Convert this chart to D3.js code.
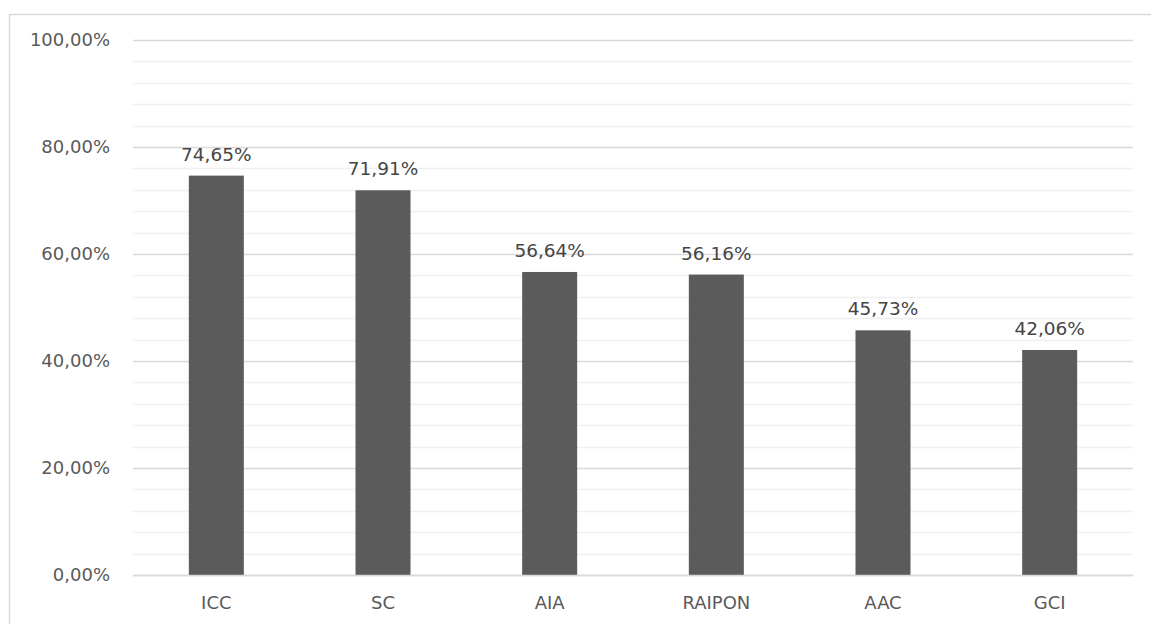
<!DOCTYPE html>
<html>
<head>
<meta charset="utf-8">
<script src="https://cdn.jsdelivr.net/npm/d3@7"></script>
<style>
  body { margin: 0; background: #fff; }
  text { font-family: "DejaVu Sans", "Open Sans", sans-serif; }
</style>
</head>
<body>
<div id="chart"></div>
<script>
// data
const categories = ["ICC", "SC", "AIA", "RAIPON", "AAC", "GCI"];
const values = [74.65, 71.91, 56.64, 56.16, 45.73, 42.06];
const majorTicks = [0, 20, 40, 60, 80, 100];
const minorTicks = d3.range(0, 101, 4);

const width = 1151, height = 624;
const margin = {top: 40, right: 18, bottom: 49, left: 133};

const svg = d3.select("#chart").append("svg")
  .attr("width", width)
  .attr("height", height);

// outer chart border
svg.append("rect")
  .attr("x", 9.5).attr("y", 14.5)
  .attr("width", width).attr("height", height)
  .attr("fill", "none")
  .attr("stroke", "#d9d9d9")
  .attr("stroke-width", 1.5);

const x = d3.scaleBand()
  .domain(categories)
  .range([margin.left, width - margin.right])
  .paddingInner(0.67)
  .paddingOuter(0.335);

const y = d3.scaleLinear()
  .domain([0, 100])
  .range([height - margin.bottom, margin.top]);

const fmt = v => v.toFixed(2).replace(".", ",") + "%";

// minor gridlines
svg.append("g").selectAll("line")
  .data(minorTicks.filter(t => t % 20 !== 0))
  .join("line")
  .attr("x1", margin.left).attr("x2", width - margin.right)
  .attr("y1", d => Math.round(y(d)) + 0.5).attr("y2", d => Math.round(y(d)) + 0.5)
  .attr("stroke", "#f0f0f0")
  .attr("stroke-width", 1.5);

// y axis with major gridlines
const yAxis = svg.append("g")
  .attr("transform", `translate(${margin.left},0)`)
  .call(d3.axisLeft(y).tickValues(majorTicks).tickSize(-(width - margin.left - margin.right)).tickPadding(23).tickFormat(fmt));
yAxis.select(".domain").remove();
yAxis.selectAll(".tick line").attr("stroke", "#d9d9d9").attr("stroke-width", 1.5);
yAxis.selectAll(".tick text")
  .attr("fill", "#595959")
  .style("font-size", "18px");

// bars
svg.append("g").selectAll("rect")
  .data(values)
  .join("rect")
  .attr("x", (d, i) => x(categories[i]))
  .attr("y", d => y(d))
  .attr("width", x.bandwidth())
  .attr("height", d => y(0) - y(d))
  .attr("fill", "#5b5b5b");

// value labels
svg.append("g").selectAll("text")
  .data(values)
  .join("text")
  .attr("x", (d, i) => x(categories[i]) + x.bandwidth() / 2)
  .attr("y", d => y(d) - 15)
  .attr("text-anchor", "middle")
  .attr("fill", "#454545")
  .style("font-size", "18.5px")
  .text(fmt);

// x axis
const xAxis = svg.append("g")
  .attr("transform", `translate(0,${y(0)})`)
  .call(d3.axisBottom(x).tickSize(0).tickPadding(21));
xAxis.select(".domain").attr("stroke", "#d9d9d9").attr("stroke-width", 1.5);
xAxis.selectAll(".tick text")
  .attr("fill", "#595959")
  .style("font-size", "18px");
</script>
</body>
</html>
